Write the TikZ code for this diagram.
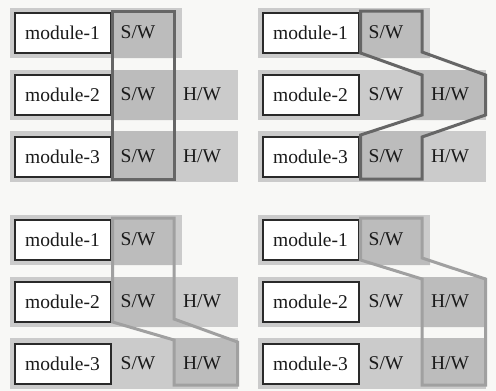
\documentclass[tikz,border=0pt]{standalone}
\usepackage{fontspec}
\setmainfont{Liberation Serif}
\definecolor{paper}{HTML}{F8F8F6}
\definecolor{strip}{HTML}{CBCBCB}
\definecolor{cell}{HTML}{BCBCBC}
\definecolor{edgeDark}{HTML}{666666}
\definecolor{edgeLight}{HTML}{A0A0A0}
\definecolor{boxline}{HTML}{2A2A2A}
\definecolor{ink}{HTML}{1A1A1A}

\tikzset{
  modbox/.style={draw=boxline, line width=2pt, fill=white, minimum width=96pt,
    minimum height=40pt, inner sep=0pt, text=ink, font=\fontsize{19.5}{22}\selectfont},
  lbl/.style={font=\fontsize{19.5}{22}\selectfont, inner sep=0pt, text=ink},
  darkedge/.style={draw=edgeDark, line width=3pt, line join=miter},
  lightedge/.style={draw=edgeLight, line width=3pt, line join=miter},
}

% strips, shaded group, module boxes and labels of one panel
% #1 = panel prefix, #2 = outline of the group, #3 = outline style
\newcommand{\modpanel}[3]{%
  \fill[strip] (10,8) rectangle (182,58);
  \fill[strip] (10,70) rectangle (238,120);
  \fill[strip] (10,131) rectangle (238,182);
  \begin{scope}
    \clip (10,8) rectangle (182,58) (10,70) rectangle (238,120) (10,131) rectangle (238,182);
    \fill[cell] #2;
  \end{scope}
  \node[modbox] (#1m1) at (62.5,32.5) {module-1};
  \node[modbox] (#1m2) at (62.5,94.5) {module-2};
  \node[modbox] (#1m3) at (62.5,156.5) {module-3};
  \node[lbl] (#1s1) at (138,32.5) {S/W};
  \node[lbl] (#1s2) at (138,94.5) {S/W};
  \node[lbl] (#1s3) at (138,156.5) {S/W};
  \node[lbl] (#1h2) at (202,94.5) {H/W};
  \node[lbl] (#1h3) at (202,156.5) {H/W};
  \draw[#3] #2;
}

\begin{document}
\begin{tikzpicture}[x=1pt,y=-1pt]
\fill[paper] (0,0) rectangle (496,391);
\useasboundingbox (0,0) rectangle (496,391);

% all software in one group
\begin{scope}
  \modpanel{a}{(112.5,11) -- (174,11) -- (174,179) -- (112.5,179) -- cycle}{darkedge}
\end{scope}

% software of 1 and 3 with hardware of 2
\begin{scope}[shift={(248,0)}]
  \modpanel{b}{(112.5,11) -- (174,11) -- (174,52) -- (237.5,75) -- (237.5,115)
    -- (174,137) -- (174,179) -- (112.5,179) -- (112.5,135) -- (174,115)
    -- (174,75) -- (112.5,53) -- cycle}{darkedge}
\end{scope}

% software of 1 and 2 with hardware of 3
\begin{scope}[shift={(0,207)}]
  \modpanel{c}{(112.5,11) -- (174,11) -- (174,112) -- (237.5,135) -- (237.5,178)
    -- (174,178) -- (174,133) -- (112.5,115) -- cycle}{lightedge}
\end{scope}

% software of 1 with hardware of 2 and 3
\begin{scope}[shift={(248,207)}]
  \modpanel{d}{(112.5,11) -- (174,11) -- (174,51) -- (237.5,72) -- (237.5,178)
    -- (174,178) -- (174,72) -- (112.5,53) -- cycle}{lightedge}
\end{scope}
\end{tikzpicture}
\end{document}
